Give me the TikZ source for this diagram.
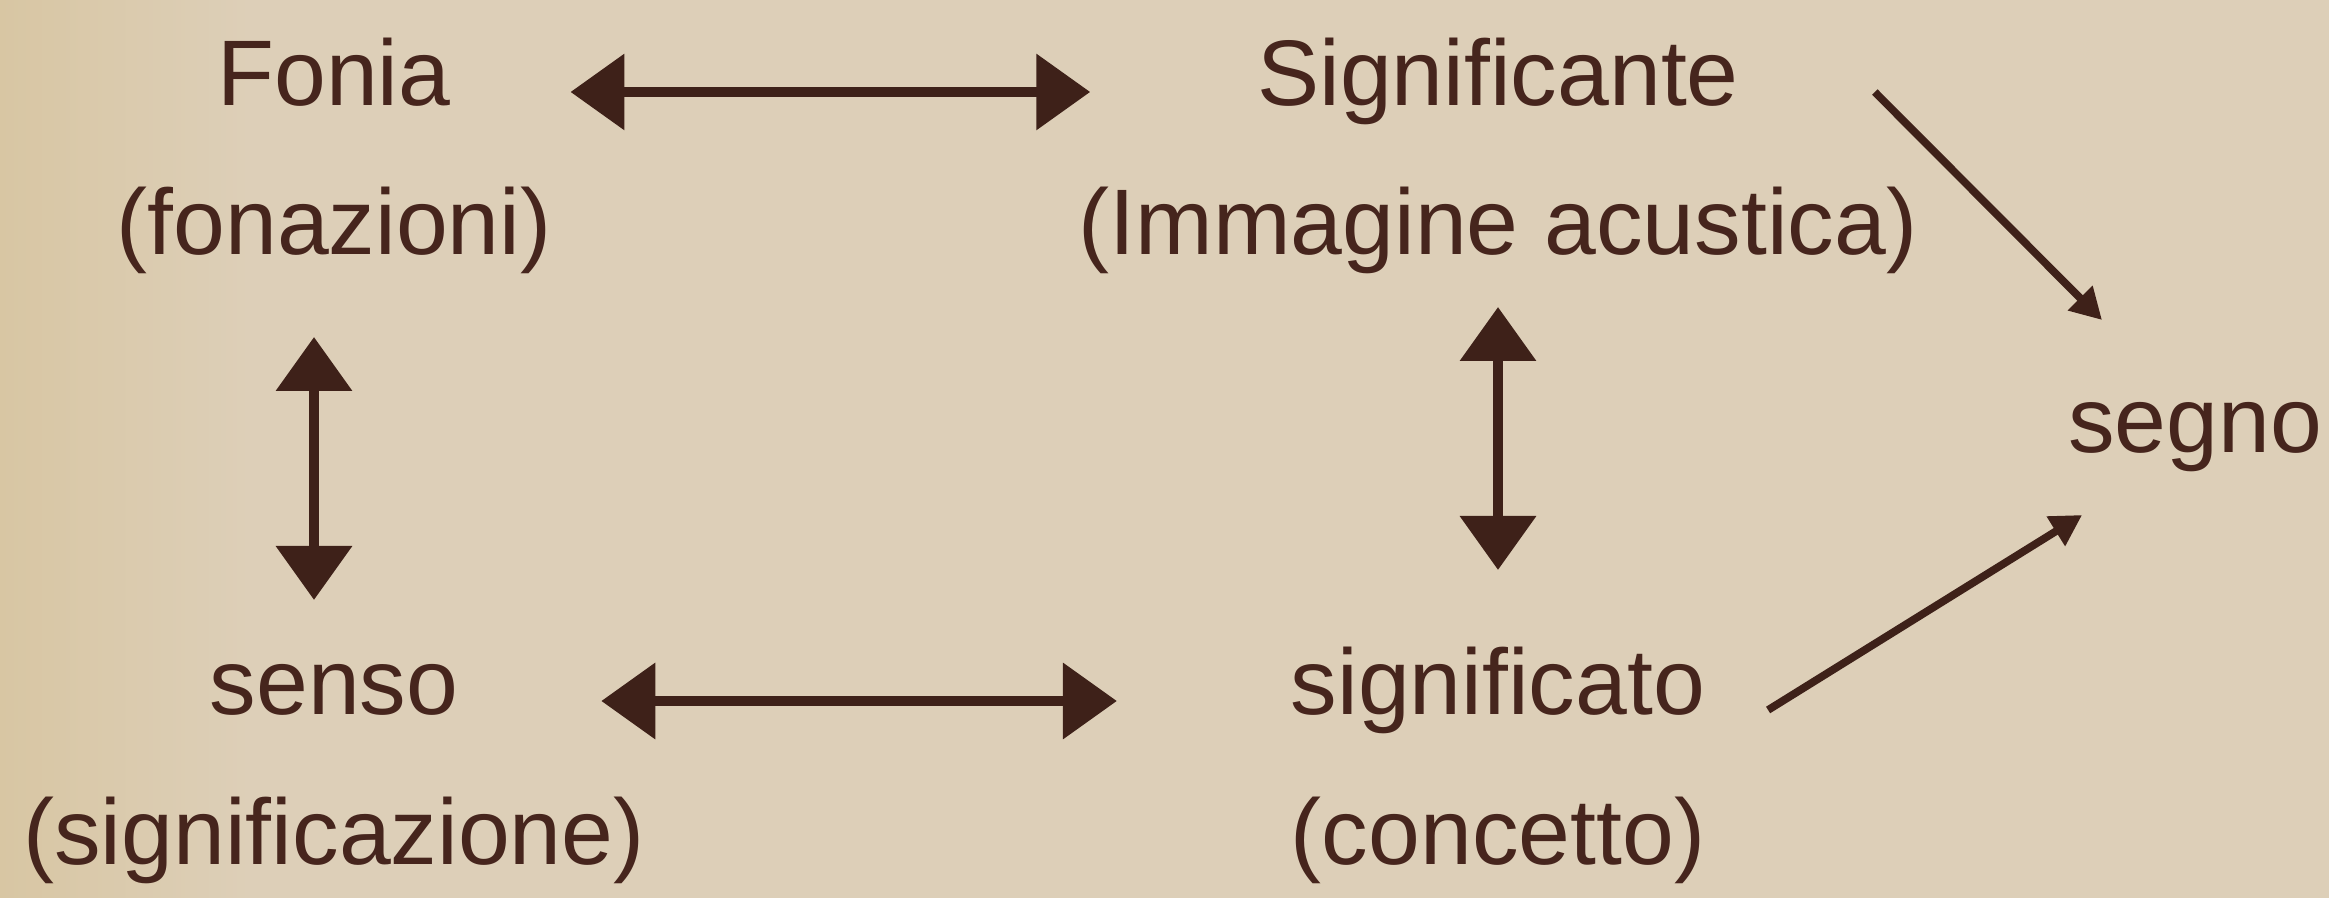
\documentclass[tikz,border=0pt]{standalone}
\usepackage{fontspec}
\setmainfont{Liberation Sans}
\usepackage{tikz}
\usetikzlibrary{arrows.meta}
\definecolor{paper}{RGB}{221,207,184}
\definecolor{paperedge}{RGB}{216,198,163}
\definecolor{inkbrown}{RGB}{70,37,29}
\definecolor{arrowbrown}{RGB}{62,33,25}

\begin{document}
\begin{tikzpicture}

        % Setup the styles for the labels and the arrows
        \tikzset{label style/.style={anchor=base,
                                     inner sep=0pt,
                                     outer sep=0pt,
                                     text height=0.62cm,
                                     text depth=0.34cm,
                                     text=inkbrown,
                                     font=\fontsize{26.5}{30}\selectfont},
                 big arrow/.style={<->,
                                   >={Triangle[length=5.4mm,width=7.4mm]},
                                   line width=3pt,
                                   color=arrowbrown},
                 thin arrow/.style={->,
                                    >={Triangle[length=3.1mm,width=3.3mm]},
                                    line width=2.2pt,
                                    color=arrowbrown}}

        % Paper background
        \useasboundingbox (0, 0) rectangle (23.29, 8.98);
        \fill[paper] (0, 0) rectangle (23.29, 8.98);
        \shade[left color=paperedge, right color=paper] (0, 0) rectangle (2.5, 8.98);

        % Draw the labels
        \node[label style] at (3.34, 7.92)     (fonia)       {Fonia};
        \node[label style] at (3.34, 6.43)     (fonaz)       {(fonazioni)};
        \node[label style] at (14.98, 7.92)    (signifnte)   {Significante};
        \node[label style] at (14.98, 6.43)    (immag)       {(Immagine acustica)};
        \node[label style] at (21.95, 4.45)    (segno)       {segno};
        \node[label style] at (3.34, 1.83)     (senso)       {senso};
        \node[label style] at (3.34, 0.33)     (signifzione) {(significazione)};
        \node[label style] at (14.98, 1.83)    (signifto)    {significato};
        \node[label style] at (14.98, 0.33)    (concetto)    {(concetto)};

        % Connect the labels with the double arrows
        \draw[big arrow, shorten <=1.2cm, shorten >=1.67cm]   (fonia) -- (signifnte);
        \draw[big arrow, shorten <=1.43cm, shorten >=1.74cm]  (senso) -- (signifto);
        \draw[big arrow, shorten <=0.48cm, shorten >=0.53cm]
            ([xshift=-2mm]fonaz.south) -- ([xshift=-2mm]senso.north);
        \draw[big arrow, shorten <=0.18cm, shorten >=0.83cm]  (immag) -- (signifto);

        % Arrows into the sign
        \draw[thin arrow] ([xshift=1.36cm]signifnte.east)
            -- ([shift={(-0.93cm,0.71cm)}]segno.north);
        \draw[thin arrow] ([shift={(0.63cm,-0.09cm)}]signifto.east)
            -- ([shift={(0.14cm,-0.28cm)}]segno.south west);
\end{tikzpicture}
\end{document}
